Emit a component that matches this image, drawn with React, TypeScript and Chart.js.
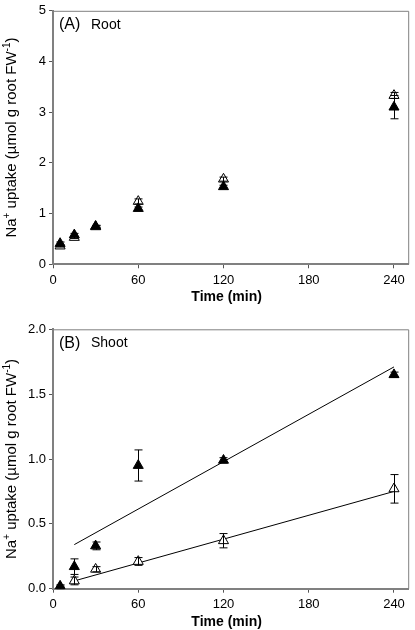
import React, { useEffect, useRef } from "react";
import { Chart, registerables } from "chart.js";
Chart.register(...registerables);

// ---- data ----
const times = [5, 15, 30, 60, 120, 240];
const xTicks = [0, 60, 120, 180, 240];

const rootFilled = [0.41, 0.58, 0.75, 1.1, 1.53, 3.1];
const rootFilledErr = [0.03, 0.03, 0.02, 0.03, 0.03, 0.23];
const rootOpen = [0.36, 0.53, 0.74, 1.24, 1.68, 3.33];
const rootOpenErr = [0.02, 0.02, 0.02, 0.05, 0.04, 0.06];

const shootFilled = [0.02, 0.17, 0.33, 0.95, 0.99, 1.65];
const shootFilledErr = [0.01, 0.06, 0.03, 0.12, 0.02, 0.02];
const shootOpen = [0.01, 0.06, 0.15, 0.21, 0.37, 0.77];
const shootOpenErr = [0.01, 0.03, 0.02, 0.03, 0.055, 0.11];

const fitX = [15, 240];
const shootFilledFit = [0.34, 1.71];
const shootOpenFit = [0.06, 0.75];

const FONT = "'Liberation Sans', Arial, Helvetica, sans-serif";

type PanelProps = {
  height: number;
  chartTop: number;
  chartBottom: number;
  yMax: number;
  yStep: number;
  yDecimals: number;
  filled: number[];
  filledErr: number[];
  open: number[];
  openErr: number[];
  fits: { x: number[]; y: number[] }[];
  letter: string;
  name: string;
};

function Panel(p: PanelProps) {
  const ref = useRef<HTMLCanvasElement | null>(null);
  useEffect(() => {
    if (!ref.current) return;
    const pts = (ys: number[], xs: number[] = times) => xs.map((x, i) => ({ x, y: ys[i] }));

    const decor = {
      id: "decor",
      afterDatasetsDraw(chart: any) {
        const { ctx, scales } = chart;
        const xs = scales.x;
        const ys = scales.y;
        ctx.save();
        ctx.strokeStyle = "#000";
        ctx.lineWidth = 1;
        const bars = (vals: number[], errs: number[]) => {
          vals.forEach((v, i) => {
            const e = errs[i];
            const x = Math.round(xs.getPixelForValue(times[i])) + 0.5;
            const y1 = ys.getPixelForValue(v + e);
            const y2 = ys.getPixelForValue(v - e);
            ctx.beginPath();
            ctx.moveTo(x, y1);
            ctx.lineTo(x, y2);
            ctx.moveTo(x - 4, y1);
            ctx.lineTo(x + 4, y1);
            ctx.moveTo(x - 4, y2);
            ctx.lineTo(x + 4, y2);
            ctx.stroke();
          });
        };
        bars(p.open, p.openErr);
        bars(p.filled, p.filledErr);
        ctx.restore();
      },
      afterDraw(chart: any) {
        const { ctx, chartArea: a } = chart;
        ctx.save();
        ctx.strokeStyle = "#808080";
        ctx.lineWidth = 1;
        ctx.beginPath();
        ctx.moveTo(a.left, a.top + 0.5);
        ctx.lineTo(a.right + 0.5, a.top + 0.5);
        ctx.lineTo(a.right + 0.5, a.bottom);
        ctx.stroke();
        ctx.fillStyle = "#000";
        ctx.textBaseline = "middle";
        ctx.textAlign = "left";
        ctx.font = `16px ${FONT}`;
        ctx.fillText(p.letter, 59, a.top + 14);
        ctx.font = `14px ${FONT}`;
        ctx.fillText(p.name, 91, a.top + 14);
        ctx.textAlign = "center";
        ctx.font = `bold 14px ${FONT}`;
        ctx.fillText("Time (min)", (a.left + a.right) / 2 - 4, a.bottom + 33);
        const parts: [string, boolean][] = [
          ["Na", false],
          ["+", true],
          [" uptake (\u00B5mol g root FW", false],
          ["-1", true],
          [")", false],
        ];
        const big = `15px ${FONT}`;
        const small = `10px ${FONT}`;
        let total = 0;
        parts.forEach(([t, s]) => {
          ctx.font = s ? small : big;
          total += ctx.measureText(t).width;
        });
        ctx.translate(12, (a.top + a.bottom) / 2);
        ctx.rotate(-Math.PI / 2);
        ctx.textAlign = "left";
        let cx = -total / 2;
        parts.forEach(([t, s]) => {
          ctx.font = s ? small : big;
          ctx.fillText(t, cx, s ? -5 : 0);
          cx += ctx.measureText(t).width;
        });
        ctx.restore();
      },
    };

    const chart = new Chart(ref.current, {
      type: "scatter",
      data: {
        datasets: [
          {
            data: pts(p.filled),
            pointStyle: "triangle",
            pointRadius: 5.8,
            backgroundColor: "#000",
            borderColor: "#000",
            borderWidth: 1,
          },
          {
            data: pts(p.open),
            pointStyle: "triangle",
            pointRadius: 5.8,
            backgroundColor: "#fff",
            borderColor: "#000",
            borderWidth: 1,
          },
          ...p.fits.map((f) => ({
            data: pts(f.y, f.x),
            showLine: true,
            pointRadius: 0,
            borderColor: "#000",
            borderWidth: 1,
            backgroundColor: "#000",
          })),
        ],
      } as any,
      options: {
        animation: false,
        responsive: false,
        events: [],
        layout: { padding: { top: p.chartTop, right: 2, left: 0, bottom: 0 } },
        plugins: { legend: { display: false }, tooltip: { enabled: false } },
        scales: {
          x: {
            type: "linear",
            min: 0,
            max: 250,
            afterBuildTicks: (s: any) => {
              s.ticks = xTicks.map((v) => ({ value: v }));
            },
            afterFit: (s: any) => {
              s.height = p.height - p.chartBottom;
            },
            grid: { drawOnChartArea: false, drawTicks: true, tickLength: 4, tickColor: "#555", tickWidth: 1 },
            border: { display: true, color: "#808080", width: 2 },
            ticks: { color: "#000", font: { family: FONT, size: 13 }, padding: 4, maxRotation: 0, autoSkip: false },
          },
          y: {
            type: "linear",
            min: 0,
            max: p.yMax,
            afterBuildTicks: (s: any) => {
              const t = [];
              for (let v = 0; v <= p.yMax + 1e-9; v += p.yStep) t.push({ value: +v.toFixed(3) });
              s.ticks = t;
            },
            afterFit: (s: any) => {
              s.width = 53;
            },
            grid: { drawOnChartArea: false, drawTicks: true, tickLength: 4, tickColor: "#555", tickWidth: 1 },
            border: { display: true, color: "#808080", width: 2 },
            ticks: {
              color: "#000",
              font: { family: FONT, size: 13 },
              padding: 3,
              callback: (v: any) => Number(v).toFixed(p.yDecimals),
            },
          },
        },
      } as any,
      plugins: [decor],
    });
    return () => chart.destroy();
  }, []);
  return <canvas ref={ref} width={415} height={p.height} style={{ display: "block", width: 415, height: p.height }} />;
}

export default function App() {
  return (
    <div style={{ position: "absolute", left: 0, top: 0, width: 415, height: 630, background: "#fff" }}>
      <Panel
        height={310}
        chartTop={5.7}
        chartBottom={264.3}
        yMax={5}
        yStep={1}
        yDecimals={0}
        filled={rootFilled}
        filledErr={rootFilledErr}
        open={rootOpen}
        openErr={rootOpenErr}
        fits={[]}
        letter="(A)"
        name="Root"
      />
      <Panel
        height={320}
        chartTop={19.3}
        chartBottom={278.7}
        yMax={2}
        yStep={0.5}
        yDecimals={1}
        filled={shootFilled}
        filledErr={shootFilledErr}
        open={shootOpen}
        openErr={shootOpenErr}
        fits={[
          { x: fitX, y: shootFilledFit },
          { x: fitX, y: shootOpenFit },
        ]}
        letter="(B)"
        name="Shoot"
      />
    </div>
  );
}
